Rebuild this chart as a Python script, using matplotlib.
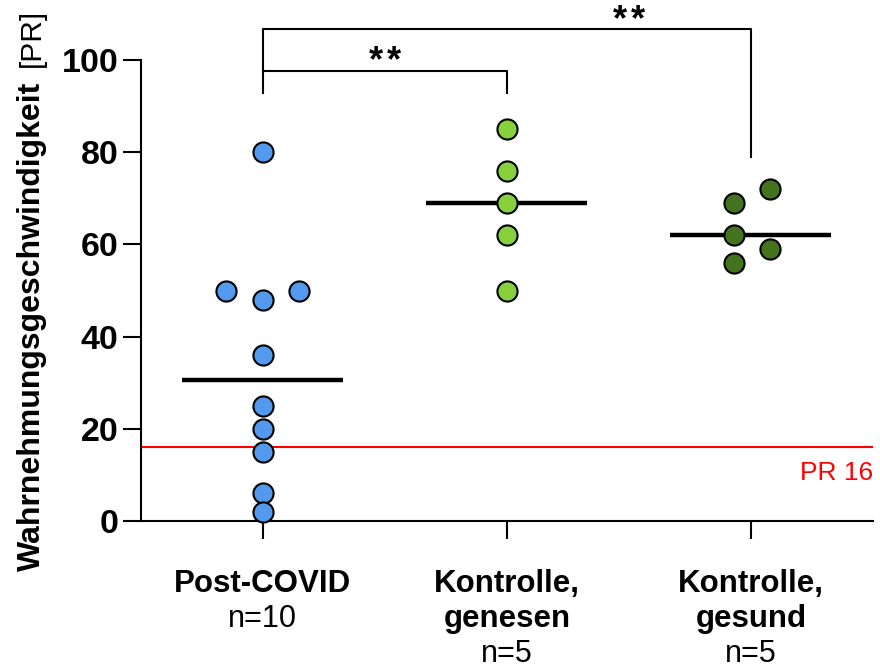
import matplotlib
matplotlib.use('Agg')
import matplotlib.pyplot as plt
import numpy as np

plt.rcParams['font.family'] = ['Liberation Sans', 'DejaVu Sans']

# data
groups = ['Post-COVID', 'Kontrolle,\ngenesen', 'Kontrolle,\ngesund']
n_labels = ['n=10', 'n=5', 'n=5']
post_covid = [80, 50, 48, 50, 36, 25, 20, 15, 6, 2]
genesen = [85, 76, 69, 62, 50]
gesund = [72, 69, 62, 59, 56]
# horizontal scatter of the dots (category units)
post_covid_jitter = [0, -0.15, 0, 0.15, 0, 0, 0, 0, 0, 0]
genesen_jitter = [0, 0, 0, 0, 0]
gesund_jitter = [0.08, -0.07, -0.07, 0.08, -0.07]
colors = ['#5399ee', '#87d23c', '#44731e']
pr_cut = 16
# significance: (group a, group b, number of stars)
sig_pairs = [(0, 1, 2), (0, 2, 2)]

values = [post_covid, genesen, gesund]
jitters = [post_covid_jitter, genesen_jitter, gesund_jitter]

fig = plt.figure(figsize=(8.8, 6.71), dpi=100)
ax = fig.add_axes([0.160, 0.2235, 0.832, 0.687])

for i, (v, j) in enumerate(zip(values, jitters)):
    x = i + np.array(j)
    ax.plot(x, v, 'o', ms=14.5, mfc=colors[i], mec='black', mew=1.5,
            clip_on=False, zorder=3)
    med = np.median(v)
    ax.plot([i - 0.33, i + 0.33], [med, med], color='black', lw=3.2,
            solid_capstyle='butt', zorder=2)

ax.axhline(pr_cut, color='red', lw=1.5, zorder=1)
ax.text(2.5, pr_cut - 5.5, 'PR 16', color='red', fontsize=19,
        ha='right', va='center')

# significance brackets
ax.plot([0, 0, 1, 1], [92.8, 97.6, 97.6, 92.8], color='black', lw=1.5,
        clip_on=False)
ax.plot([0, 0, 2, 2], [97.6, 106.7, 106.7, 79], color='black', lw=1.5,
        clip_on=False)
star_spots = [(0.5, 97.5), (1.5, 106.4)]
for (a, b, k), (sx, sy) in zip(sig_pairs, star_spots):
    for s in range(k):
        dx = (s - (k - 1) / 2) * 13.5
        ax.annotate('*', xy=(sx, sy), xytext=(dx, 0), textcoords='offset points',
                    fontsize=26, fontweight='bold', ha='center', va='baseline',
                    annotation_clip=False)

ax.set_xlim(-0.5, 2.5)
ax.set_ylim(0, 100)
ax.set_yticks([0, 20, 40, 60, 80, 100])
ax.set_xticks([0, 1, 2])
ax.set_xticklabels([])
for lab in ax.get_yticklabels():
    lab.set_fontweight('bold')
ax.tick_params(axis='y', labelsize=24.5, length=13, width=1.5, pad=3)
ax.tick_params(axis='x', length=13, width=1.5)
for s in ['top', 'right']:
    ax.spines[s].set_visible(False)
for s in ['left', 'bottom']:
    ax.spines[s].set_linewidth(1.5)

# category labels: bold name lines, then regular n
step = 25.2
for i, (g, n) in enumerate(zip(groups, n_labels)):
    lines = g.split('\n')
    for k, line in enumerate(lines):
        ax.annotate(line, xy=(i, 0), xycoords=('data', 'axes fraction'),
                    xytext=(0, -45 - step * k), textcoords='offset points',
                    ha='center', va='center', fontsize=22.5, fontweight='bold')
    ax.annotate(n, xy=(i, 0), xycoords=('data', 'axes fraction'),
                xytext=(0, -45 - step * len(lines)), textcoords='offset points',
                ha='center', va='center', fontsize=22)

# y label: bold part plus regular unit
fig.text(40 / 880, 1 - 82 / 671, 'Wahrnehmungsgeschwindigkeit', rotation=90,
         rotation_mode='anchor', ha='right', va='baseline', fontsize=23,
         fontweight='bold')
fig.text(40 / 880, 1 - 67 / 671, '[PR]', rotation=90,
         rotation_mode='anchor', ha='left', va='baseline', fontsize=21.5)

fig.savefig('out.png', dpi=100)
